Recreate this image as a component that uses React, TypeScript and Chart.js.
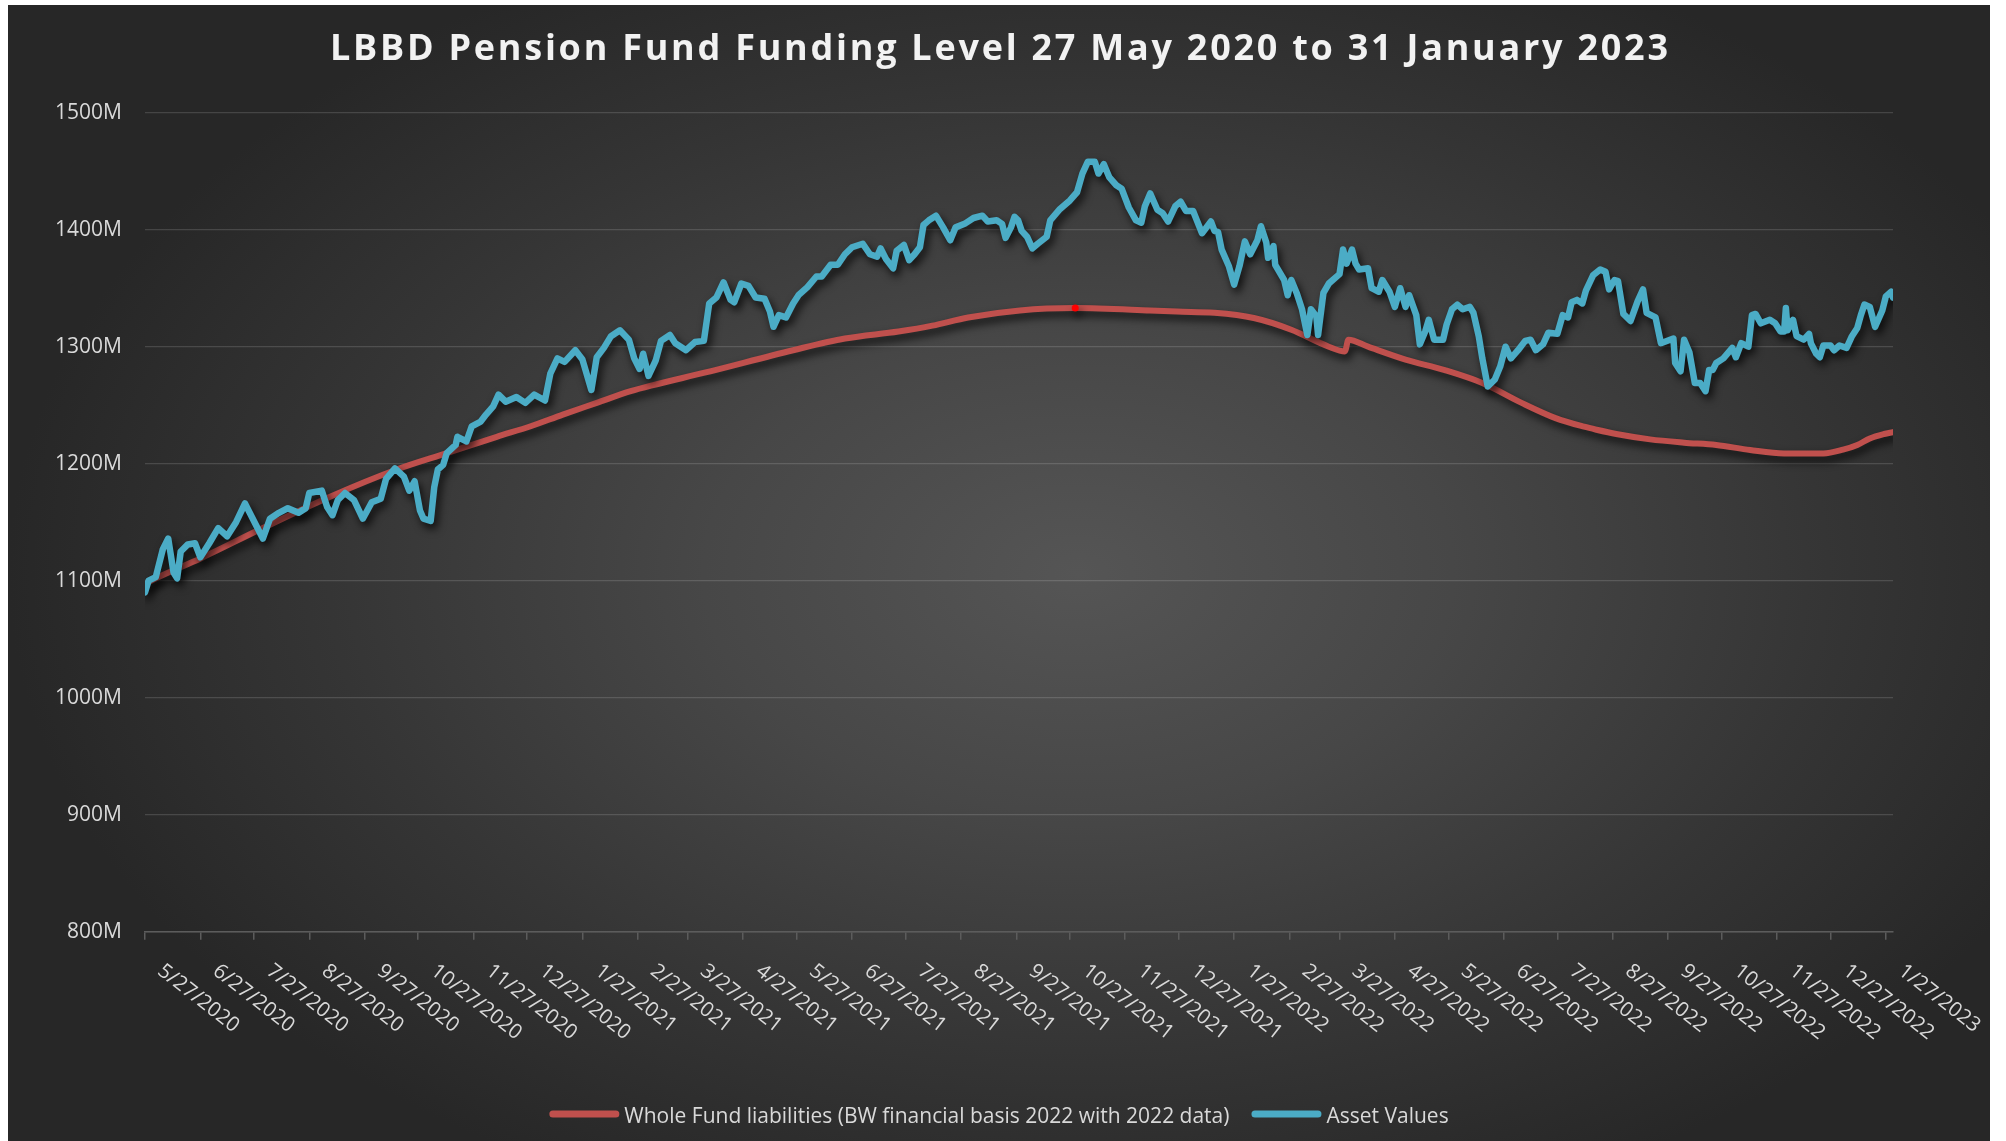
import React, { useEffect, useRef } from 'react';
import { Chart, registerables } from 'chart.js';

Chart.register(...registerables);

const CHART_TITLE = 'LBBD Pension Fund Funding Level 27 May 2020 to 31 January 2023';
const START_DATE = '5/27/2020';
const END_DATE = '1/31/2023';
const X_TICK_LABELS = [
  '5/27/2020', '6/27/2020', '7/27/2020', '8/27/2020', '9/27/2020', '10/27/2020', '11/27/2020', '12/27/2020',
  '1/27/2021', '2/27/2021', '3/27/2021', '4/27/2021', '5/27/2021', '6/27/2021', '7/27/2021', '8/27/2021',
  '9/27/2021', '10/27/2021', '11/27/2021', '12/27/2021', '1/27/2022', '2/27/2022', '3/27/2022', '4/27/2022',
  '5/27/2022', '6/27/2022', '7/27/2022', '8/27/2022', '9/27/2022', '10/27/2022', '11/27/2022', '12/27/2022',
  '1/27/2023',
];
const Y_MIN = 800;
const Y_MAX = 1500;
const Y_STEP = 100;

const LIABILITY_LABEL = 'Whole Fund liabilities (BW financial basis 2022 with 2022 data)';
const ASSET_LABEL = 'Asset Values';

// days since 27 May 2020
const liabilityDays = [
  0, 6, 31, 66, 104, 141, 169, 197, 216, 234,
  253, 272, 284, 314, 363, 392, 422, 441, 461, 490,
  521, 563, 578, 599, 621, 642, 663, 672, 674, 685,
  706, 728, 749, 771, 790, 806, 813, 824, 843, 862,
  880, 899, 918, 940, 951, 959, 966, 974, 979,
];
// £M
const liabilityValues = [
  1097, 1102, 1119, 1145, 1172, 1195, 1209, 1223, 1232, 1242,
  1252, 1262, 1267, 1278, 1297, 1307, 1313, 1318, 1325, 1331,
  1333, 1331, 1330, 1329, 1324.5, 1314.5, 1300, 1296, 1306, 1300,
  1289, 1280, 1269, 1252, 1239, 1231.6, 1229, 1225.4, 1220.8, 1218,
  1216, 1211.7, 1208.8, 1208.8, 1212, 1216, 1221.6, 1225.4, 1227,
];
const LIABILITY_MARKER_DAY = 521;

const assetDays = [
  0, 2, 6, 10, 13, 16, 18, 20, 24, 28,
  31, 36, 41, 46, 51, 56, 62, 66, 70, 75,
  80, 86, 90, 92, 99, 102, 105, 108, 112, 117,
  122, 127, 132, 135, 140, 145, 148, 151, 154, 156,
  160, 162, 164, 167, 169, 174, 175, 180, 183, 188,
  191, 195, 198, 202, 208, 213, 218, 224, 227, 231,
  235, 241, 245, 250, 253, 257, 261, 266, 271, 274,
  277, 279, 282, 286, 289, 294, 297, 303, 308, 313,
  316, 320, 324, 328, 330, 334, 338, 342, 347, 350,
  352, 355, 359, 363, 366, 371, 376, 379, 384, 388,
  392, 396, 402, 406, 410, 412, 415, 419, 421, 425,
  428, 431, 434, 436, 439, 443, 447, 451, 454, 459,
  464, 469, 472, 477, 480, 482, 485, 487, 489, 491,
  494, 497, 500, 505, 507, 512, 518, 522, 525, 528,
  532, 534, 537, 540, 544, 547, 551, 555, 558, 560,
  563, 567, 570, 573, 577, 580, 583, 587, 592, 597,
  599, 601, 603, 607, 610, 613, 616, 619, 623, 625,
  628, 629, 632, 633, 638, 640, 642, 645, 648, 651,
  653, 656, 657, 660, 663, 669, 671, 673, 676, 678,
  680, 685, 687, 691, 693, 697, 700, 703, 706, 708,
  712, 714, 717, 719, 722, 727, 729, 732, 735, 738,
  742, 744, 747, 749, 752, 756, 759, 762, 765, 769,
  773, 776, 779, 783, 786, 791, 794, 797, 799, 802,
  805, 807, 811, 815, 818, 820, 823, 825, 828, 832,
  836, 839, 841, 846, 849, 856, 857, 860, 862, 865,
  868, 871, 874, 876, 878, 880, 884, 889, 891, 894,
  898, 900, 902, 905, 910, 913, 916, 918, 919, 920,
  923, 925, 929, 932, 933, 936, 938, 940, 944, 946,
  949, 953, 956, 959, 961, 963, 966, 969, 973, 975,
  978, 979,
];
const assetValues = [
  1090, 1100, 1103, 1127, 1136, 1107, 1102, 1125, 1131, 1132,
  1120, 1132, 1145, 1138, 1150, 1166, 1148, 1136, 1153, 1158,
  1162, 1158, 1162, 1175, 1177, 1163, 1156, 1169, 1175, 1169,
  1153, 1167, 1170, 1187, 1196, 1189, 1177, 1185, 1160, 1153,
  1151, 1180, 1195, 1199, 1209, 1216, 1223, 1219, 1232, 1236,
  1242, 1249, 1259, 1253, 1257, 1252, 1259, 1254, 1277, 1290,
  1287, 1297, 1289, 1263, 1291, 1299, 1309, 1314, 1306, 1290,
  1281, 1294, 1275, 1288, 1305, 1310, 1303, 1297, 1304, 1305,
  1337, 1342, 1355, 1340, 1338, 1354, 1352, 1342, 1341, 1330,
  1317, 1327, 1325, 1337, 1344, 1351, 1360, 1360, 1370, 1370,
  1379, 1385, 1388, 1379, 1377, 1384, 1375, 1367, 1382, 1387,
  1374, 1379, 1385, 1404, 1408, 1412, 1402, 1391, 1402, 1405,
  1410, 1412, 1407, 1408, 1405, 1393, 1402, 1411, 1408, 1399,
  1394, 1384, 1388, 1394, 1408, 1417, 1425, 1432, 1448, 1458,
  1458, 1448, 1456, 1445, 1438, 1435, 1419, 1408, 1406, 1420,
  1431, 1417, 1414, 1407, 1420, 1424, 1416, 1416, 1397, 1407,
  1399, 1398, 1383, 1369, 1353, 1369, 1390, 1379, 1391, 1403,
  1389, 1376, 1386, 1370, 1357, 1344, 1357, 1346, 1332, 1310,
  1332, 1326, 1310, 1346, 1354, 1362, 1383, 1371, 1383, 1371,
  1366, 1367, 1350, 1347, 1357, 1347, 1334, 1350, 1334, 1344,
  1327, 1302, 1313, 1323, 1306, 1306, 1319, 1332, 1336, 1332,
  1334, 1329, 1309, 1290, 1266, 1272, 1283, 1300, 1290, 1297,
  1305, 1306, 1297, 1302, 1312, 1311, 1327, 1325, 1338, 1340,
  1337, 1348, 1361, 1366, 1364, 1349, 1357, 1356, 1328, 1322,
  1339, 1349, 1329, 1325, 1303, 1307, 1286, 1279, 1306, 1295,
  1269, 1269, 1262, 1280, 1280, 1286, 1290, 1299, 1291, 1303,
  1300, 1327, 1328, 1320, 1323, 1320, 1313, 1313, 1333, 1314,
  1323, 1309, 1306, 1311, 1303, 1294, 1291, 1301, 1301, 1297,
  1301, 1299, 1309, 1316, 1327, 1336, 1334, 1317, 1331, 1343,
  1347, 1342,
];

const W = 1982;
const H = 1136;
const FONT = '"Open Sans", "Liberation Sans", sans-serif';
const TEXT_COLOR = '#d9d9d9';
const LIAB_COLOR = '#C0504D';
const ASSET_COLOR = '#4BACC6';
const TITLE_WIDTH = 1338;
const LABEL_ANGLE = 38;

function dayOffset(label: string): number {
  const [m, d, y] = label.split('/').map(Number);
  const [m0, d0, y0] = START_DATE.split('/').map(Number);
  return Math.round((Date.UTC(y, m - 1, d) - Date.UTC(y0, m0 - 1, d0)) / 86400000);
}

const tickDays = X_TICK_LABELS.map(dayOffset);

function pairs(xs: number[], ys: number[]) {
  const n = Math.min(xs.length, ys.length);
  const out: { x: number; y: number }[] = [];
  for (let i = 0; i < n; i++) out.push({ x: xs[i], y: ys[i] });
  return out;
}

const shadowPlugin = {
  id: 'lineShadow',
  beforeDatasetDraw(chart: any) {
    const c = chart.ctx;
    c.save();
    c.shadowColor = 'rgba(0,0,0,0.8)';
    c.shadowBlur = 8;
    c.shadowOffsetX = 3;
    c.shadowOffsetY = 5;
  },
  afterDatasetDraw(chart: any) {
    chart.ctx.restore();
  },
};

const decorPlugin = {
  id: 'decor',
  afterDraw(chart: any) {
    const c = chart.ctx as CanvasRenderingContext2D;
    const xs = chart.scales.x;

    // Title
    c.save();
    c.font = `bold 36px ${FONT}`;
    c.fillStyle = '#f2f2f2';
    c.textAlign = 'left';
    c.textBaseline = 'alphabetic';
    const raw = c.measureText(CHART_TITLE).width;
    const spacing = Math.max(0, (TITLE_WIDTH - raw) / (CHART_TITLE.length - 1));
    (c as any).letterSpacing = `${spacing}px`;
    c.fillText(CHART_TITLE, W / 2 - TITLE_WIDTH / 2, 55);
    c.restore();

    // Rotated x tick labels
    c.save();
    c.font = `20.5px ${FONT}`;
    c.fillStyle = TEXT_COLOR;
    c.textAlign = 'left';
    c.textBaseline = 'alphabetic';
    X_TICK_LABELS.forEach((lab, i) => {
      const px = xs.getPixelForValue(tickDays[i]);
      c.save();
      c.translate(px + 11.5, xs.top + 41.5);
      c.rotate((LABEL_ANGLE * Math.PI) / 180);
      c.fillText(lab, 0, 0);
      c.restore();
    });
    c.restore();

    // Legend
    c.save();
    c.font = `21px ${FONT}`;
    const items = chart.data.datasets.map((ds: any) => ({ label: ds.label, color: ds.borderColor }));
    const sw = 70;
    const gap = 5;
    const itemGap = 22;
    const widths = items.map((it: any) => sw + gap + c.measureText(it.label).width);
    const total = widths.reduce((a: number, b: number) => a + b, 0) + itemGap * (items.length - 1);
    let x = W / 2 - total / 2;
    const ly = 1109;
    items.forEach((it: any, i: number) => {
      c.strokeStyle = it.color;
      c.lineWidth = 7;
      c.lineCap = 'round';
      c.beginPath();
      c.moveTo(x + 3.5, ly);
      c.lineTo(x + sw - 3.5, ly);
      c.stroke();
      c.fillStyle = TEXT_COLOR;
      c.textAlign = 'left';
      c.textBaseline = 'alphabetic';
      c.fillText(it.label, x + sw + gap, ly + 8.7);
      x += widths[i] + itemGap;
    });
    c.restore();
  },
};

export default function App() {
  const ref = useRef<HTMLCanvasElement>(null);

  useEffect(() => {
    const canvas = ref.current;
    if (!canvas) return;
    const chart = new Chart(canvas, {
      type: 'line',
      data: {
        datasets: [
          {
            label: LIABILITY_LABEL,
            data: pairs(liabilityDays, liabilityValues),
            borderColor: LIAB_COLOR,
            backgroundColor: LIAB_COLOR,
            borderWidth: 6,
            cubicInterpolationMode: 'monotone',
            borderJoinStyle: 'round',
            borderCapStyle: 'round',
            pointRadius: (ctx: any) => (liabilityDays[ctx.dataIndex] === LIABILITY_MARKER_DAY ? 3.5 : 0),
            pointBackgroundColor: '#ff0000',
            pointBorderWidth: 0,
            order: 2,
          } as any,
          {
            label: ASSET_LABEL,
            data: pairs(assetDays, assetValues),
            borderColor: ASSET_COLOR,
            backgroundColor: ASSET_COLOR,
            borderWidth: 6.5,
            tension: 0,
            borderJoinStyle: 'round',
            borderCapStyle: 'round',
            pointRadius: 0,
            order: 1,
          } as any,
        ],
      },
      options: {
        responsive: false,
        animation: false,
        events: [],
        layout: { padding: { top: 107.7, right: 97, bottom: 201.3, left: 0 } },
        plugins: {
          legend: { display: false },
          title: { display: false },
          tooltip: { enabled: false },
        },
        scales: {
          x: {
            type: 'linear',
            min: 0,
            max: dayOffset(END_DATE),
            afterBuildTicks: (axis: any) => {
              axis.ticks = tickDays.map((v) => ({ value: v }));
            },
            afterFit: (axis: any) => {
              axis.height = 8;
            },
            ticks: { display: false },
            grid: {
              drawOnChartArea: false,
              drawTicks: true,
              tickLength: 8,
              color: '#5c5c5c',
              lineWidth: 1.5,
            },
            border: { display: true, color: '#5c5c5c', width: 1.5 },
          },
          y: {
            type: 'linear',
            min: Y_MIN,
            max: Y_MAX,
            afterFit: (axis: any) => {
              axis.width = 137;
            },
            ticks: {
              stepSize: Y_STEP,
              padding: 23,
              color: TEXT_COLOR,
              font: { family: FONT, size: 21 },
              callback: (v: any) => `${v}M`,
            },
            grid: { color: 'rgba(255,255,255,0.14)', lineWidth: 1.3, drawTicks: false },
            border: { display: false },
          },
        },
      } as any,
      plugins: [shadowPlugin, decorPlugin],
    });
    return () => chart.destroy();
  }, []);

  return (
    <div
      style={{
        position: 'absolute',
        left: 8,
        top: 5,
        width: W,
        height: H,
        background:
          'radial-gradient(ellipse 54% 60% at 54% 50%, #555555 0%, #474747 35%, #353535 70%, #272727 100%)',
      }}
    >
      <canvas ref={ref} width={W} height={H} style={{ display: 'block', width: W, height: H }} />
    </div>
  );
}
